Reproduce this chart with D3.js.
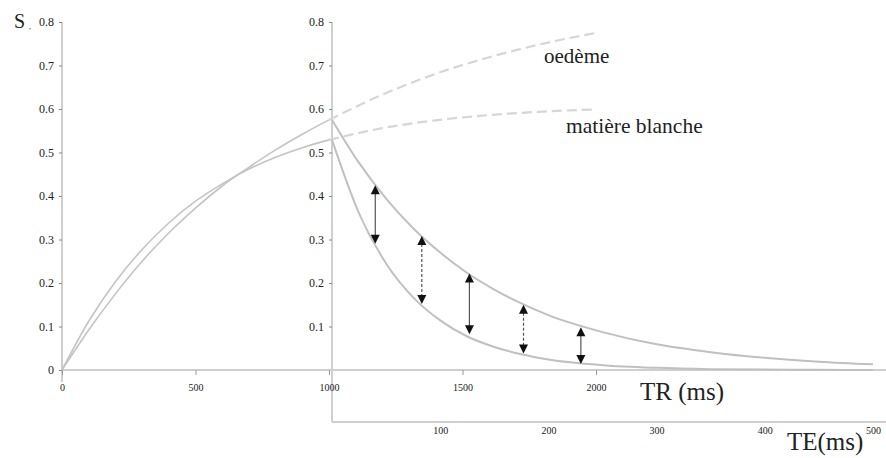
<!DOCTYPE html>
<html><head><meta charset="utf-8">
<script src="https://cdn.jsdelivr.net/npm/d3@7"></script>
<style>body{margin:0;background:#fff}svg{display:block}svg text{font-family:"Liberation Serif","DejaVu Serif",serif !important;fill:#222}</style>
</head><body>
<svg id="c" width="886" height="458"></svg>
<script>
// ---- data ----
const yTicks = [0,0.1,0.2,0.3,0.4,0.5,0.6,0.7,0.8];
const yTickLabels = ["0","0.1","0.2","0.3","0.4","0.5","0.6","0.7","0.8"];
const trTicks = [0,500,1000,1500,2000];
const trTickLabels = ["0","500","1000","1500","2000"];
const teTicks = [100,200,300,400,500];
const teTickLabels = ["100","200","300","400","500"];
// T1 recovery, solid part (TR 0..1000)
const trSolid = [0,100,200,300,400,500,600,700,800,900,1000];
const wmRecovery = [0,0.112,0.203,0.277,0.338,0.388,0.428,0.462,0.489,0.511,0.529];
const oedRecovery = [0,0.092,0.175,0.250,0.315,0.372,0.423,0.466,0.506,0.542,0.575];
// dashed continuation (TR 1000..2000)
const trDashed = [1000,1200,1400,1600,1800,2000];
const wmDashed = [0.529,0.556,0.574,0.586,0.594,0.599];
const oedDashed = [0.575,0.633,0.681,0.719,0.750,0.775];
// T2 decay (TE 0..500)
const teVals = [0,25,50,75,100,125,150,175,200,250,300,350,400,450,500];
const oedDecay = [0.575,0.476,0.394,0.326,0.270,0.223,0.185,0.153,0.126,0.087,0.059,0.041,0.028,0.019,0.013];
const wmDecay = [0.529,0.360,0.245,0.167,0.114,0.077,0.053,0.036,0.024,0.011,0.005,0.002,0.001,0.0005,0];
// contrast arrows
const arrowTE = [40,83,127,177,230];
const arrowTop = [0.425,0.308,0.222,0.150,0.098];
const arrowBot = [0.290,0.152,0.082,0.038,0.014];

const svg = d3.select("#c");
const y = d3.scaleLinear().domain([0,0.8]).range([370,22]);
const xTR = d3.scaleLinear().domain([0,2000]).range([62,596]);
const xTE = d3.scaleLinear().domain([0,500]).range([332,873]);
const serif = '"Liberation Serif","DejaVu Serif",serif';

// axis lines
const axisCol = "#cfcfcf";
svg.append("line").attr("x1",xTR(0)).attr("x2",886).attr("y1",y(0)).attr("y2",y(0)).attr("stroke",axisCol).attr("stroke-width",2);
svg.append("line").attr("x1",xTE(0)).attr("x2",886).attr("y1",422).attr("y2",422).attr("stroke",axisCol).attr("stroke-width",2);
svg.append("line").attr("x1",xTR(0)).attr("x2",xTR(0)).attr("y1",y(0.8)).attr("y2",382).attr("stroke",axisCol).attr("stroke-width",2);
svg.append("line").attr("x1",xTE(0)).attr("x2",xTE(0)).attr("y1",y(0.8)).attr("y2",422).attr("stroke",axisCol).attr("stroke-width",2);

// y axes (left and middle)
function yAxis(x0){
  const g = svg.append("g").attr("transform",`translate(${x0},0)`);
  const ax = d3.axisLeft(y).tickValues(yTicks).tickSize(3).tickPadding(5)
    .tickFormat((d,i)=>yTickLabels[i]);
  g.call(ax);
  g.attr("font-family",serif);
  g.select(".domain").remove();
  g.selectAll(".tick line").attr("stroke","#888");
  g.selectAll(".tick text").attr("font-size",12).style("font-family",serif).attr("fill","#333");
  return g;
}
yAxis(xTR(0));
const g2 = yAxis(xTE(0));
g2.selectAll(".tick").filter(d=>d===0).remove();

// TR axis
const gtr = svg.append("g").attr("transform",`translate(0,${y(0)})`);
gtr.call(d3.axisBottom(xTR).tickValues(trTicks).tickSize(5).tickPadding(9).tickFormat((d,i)=>trTickLabels[i]));
gtr.attr("font-family",serif);
gtr.select(".domain").remove();
gtr.selectAll(".tick line").attr("stroke","#999");
gtr.selectAll(".tick text").attr("font-size",10).style("font-family",serif).attr("fill","#333");

// TE axis
const gte = svg.append("g").attr("transform",`translate(0,422)`);
gte.call(d3.axisBottom(xTE).tickValues(teTicks).tickSize(0).tickPadding(5).tickFormat((d,i)=>teTickLabels[i]));
gte.attr("font-family",serif);
gte.select(".domain").remove();
gte.selectAll(".tick text").attr("font-size",10).style("font-family",serif).attr("fill","#333");

// curves
const lineTR = d3.line().x(d=>xTR(d[0])).y(d=>y(d[1])).curve(d3.curveMonotoneX);
const lineTE = d3.line().x(d=>xTE(d[0])).y(d=>y(d[1])).curve(d3.curveMonotoneX);
const zip = (a,b)=>a.map((v,i)=>[v,b[i]]);

svg.append("path").attr("d",lineTR(zip(trSolid,wmRecovery))).attr("fill","none").attr("stroke","#c4c4c4").attr("stroke-width",1.6);
svg.append("path").attr("d",lineTR(zip(trSolid,oedRecovery))).attr("fill","none").attr("stroke","#c4c4c4").attr("stroke-width",1.6);
svg.append("path").attr("d",lineTR(zip(trDashed,wmDashed))).attr("fill","none").attr("stroke","#d6d6d6").attr("stroke-width",2.2).attr("stroke-dasharray","10,5");
svg.append("path").attr("d",lineTR(zip(trDashed,oedDashed))).attr("fill","none").attr("stroke","#d6d6d6").attr("stroke-width",2.2).attr("stroke-dasharray","10,5");
svg.append("path").attr("d",lineTE(zip(teVals,oedDecay))).attr("fill","none").attr("stroke","#c0c0c0").attr("stroke-width",2);
svg.append("path").attr("d",lineTE(zip(teVals,wmDecay))).attr("fill","none").attr("stroke","#c0c0c0").attr("stroke-width",2);

// arrows
arrowTE.forEach((t,i)=>{
  const x = xTE(t), yt = y(arrowTop[i]), yb = y(arrowBot[i]);
  svg.append("line").attr("x1",x).attr("x2",x).attr("y1",yt+8).attr("y2",yb-8).attr("stroke","#555").attr("stroke-width",1.2).attr("stroke-dasharray", i%2?"3,2":null);
  svg.append("path").attr("d",`M${x},${yt} L${x-4.5},${yt+9} L${x+4.5},${yt+9} Z`).attr("fill","#111");
  svg.append("path").attr("d",`M${x},${yb} L${x-4.5},${yb-9} L${x+4.5},${yb-9} Z`).attr("fill","#111");
});

// labels
const lab = (x,yy,fs,t)=>svg.append("text").attr("x",x).attr("y",yy).attr("font-size",fs).style("font-family",serif).text(t);
lab(14,28,20,"S");
lab(29,29,8,",");
lab(544,63,21,"oedème");
lab(566,133,21.5,"matière blanche");
lab(640,400,25,"TR (ms)");
lab(787,450,25,"TE(ms)");
</script>
</body></html>
